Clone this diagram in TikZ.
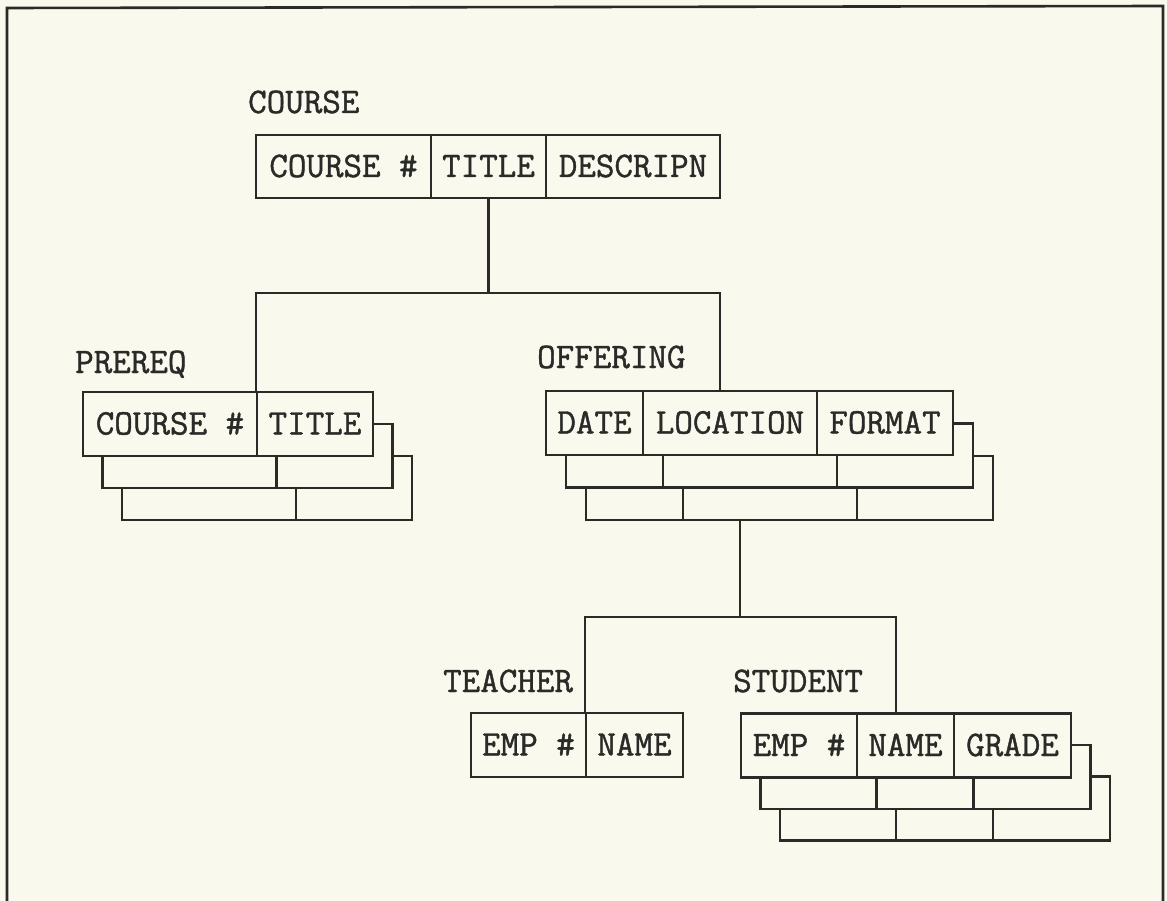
\documentclass[tikz,border=0pt]{standalone}
\usepackage{fontspec}
\setmonofont{Latin Modern Mono}[FakeBold=1.2]
\definecolor{paper}{RGB}{249,249,238}
\definecolor{ink}{RGB}{42,42,40}
\newcommand\recfont{\ttfamily\fontsize{36}{36}\selectfont}
\begin{document}
\begin{tikzpicture}[x=1pt,y=-1pt,
  cell/.style={draw=ink, fill=paper, line width=2.4pt, minimum height=64pt,
    inner sep=0pt, text height=21pt, text depth=0pt, font=\recfont, text=ink},
  tag/.style={anchor=base west, inner sep=0pt, font=\recfont, text=ink},
  link/.style={draw=ink, line width=2.4pt},
  frame/.style={draw=ink, line width=2.6pt}]
\fill[paper] (0,0) rectangle (1167,901);
\useasboundingbox (0,0) rectangle (1167,901);

% outer frame (open at the bottom)
\draw[frame] (7,901) -- (7,8) -- (1163,6) -- (1163,901);

% ---------- COURSE ----------
\node[tag] (course-tag) at (248,113) {COURSE};
\node[cell, minimum width=175, minimum height=63] (c1) at (343.5,166.5) {COURSE \#};
\node[cell, minimum width=115, minimum height=63] (c2) at (488.5,166.5) {TITLE};
\node[cell, minimum width=174, minimum height=63] (c3) at (633,166.5) {DESCRIPN};

% ---------- PREREQ (repeating group) ----------
\node[tag] (prereq-tag) at (75,373) {PREREQ};
\foreach \k in {2,1} {
  \begin{scope}[shift={(\k*19.5,\k*32)}]
    \node[cell, minimum width=174] (p\k a) at (170,424) {};
    \node[cell, minimum width=116] (p\k b) at (315,424) {};
  \end{scope}
}
\node[cell, minimum width=174] (p1) at (170,424) {COURSE \#};
\node[cell, minimum width=116] (p2) at (315,424) {TITLE};

% ---------- OFFERING (repeating group) ----------
\node[tag] (offering-tag) at (537,368) {OFFERING};
\foreach \k in {2,1} {
  \begin{scope}[shift={(\k*20,\k*32.5)}]
    \node[cell, minimum width=97]  (o\k a) at (594.5,423) {};
    \node[cell, minimum width=174] (o\k b) at (730,423) {};
    \node[cell, minimum width=136] (o\k c) at (885,423) {};
  \end{scope}
}
\node[cell, minimum width=97]  (o1) at (594.5,423) {DATE};
\node[cell, minimum width=174] (o2) at (730,423) {LOCATION};
\node[cell, minimum width=136] (o3) at (885,423) {FORMAT};

% ---------- TEACHER ----------
\node[tag] (teacher-tag) at (443,692) {TEACHER};
\node[cell, minimum width=115] (t1) at (528.5,745) {EMP \#};
\node[cell, minimum width=97]  (t2) at (634.5,745) {NAME};

% ---------- STUDENT (repeating group) ----------
\node[tag] (student-tag) at (733,692) {STUDENT};
\foreach \k in {2,1} {
  \begin{scope}[shift={(\k*19.5,\k*31.5)}]
    \node[cell, minimum width=116] (s\k a) at (799,745.5) {};
    \node[cell, minimum width=97]  (s\k b) at (905.5,745.5) {};
    \node[cell, minimum width=117] (s\k c) at (1012.5,745.5) {};
  \end{scope}
}
\node[cell, minimum width=116] (s1) at (799,745.5) {EMP \#};
\node[cell, minimum width=97]  (s2) at (905.5,745.5) {NAME};
\node[cell, minimum width=117] (s3) at (1012.5,745.5) {GRADE};

% ---------- hierarchy connectors ----------
\coordinate (j1) at (488.5,293);
\coordinate (o-in) at (720,391);
\draw[link] (c2.south) -- (j1);
\draw[link] (p2.north west) -- (p2.north west |- j1) -- (o-in |- j1) -- (o-in);

\coordinate (o-out) at (740,520);
\coordinate (j2) at (740,617);
\coordinate (s-in) at (896,713);
\draw[link] (o-out) -- (j2);
\draw[link] (t2.north west) -- (t2.north west |- j2) -- (s-in |- j2) -- (s-in);
\end{tikzpicture}
\end{document}
